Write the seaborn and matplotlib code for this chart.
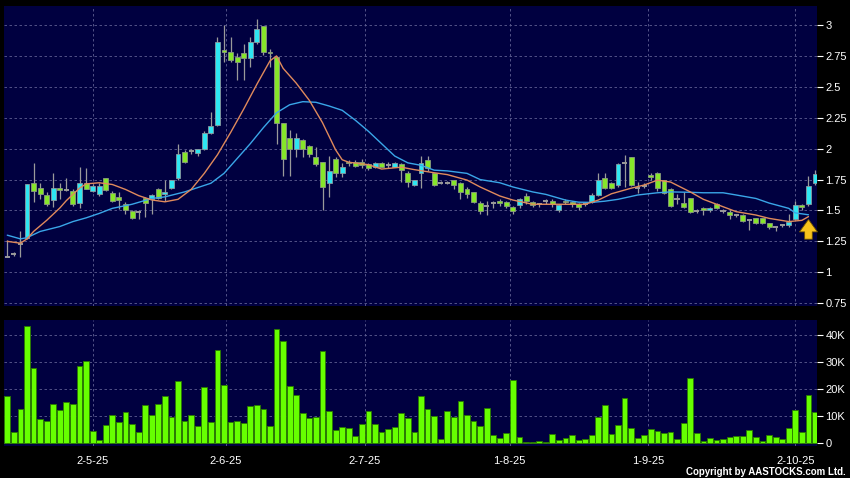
import numpy as np
import pandas as pd
import matplotlib
matplotlib.use("Agg")
import matplotlib.pyplot as plt
import seaborn as sns

# ---- data (prices in HKD, volume in K shares) ----
opens = [1.12, 1.145, 1.23, 1.28, 1.72, 1.68, 1.625, 1.585, 1.68, 1.665,
         1.66, 1.557, 1.724, 1.66, 1.63, 1.76, 1.638, 1.61, 1.55, 1.495,
         1.49, 1.597, 1.59, 1.673, 1.63, 1.68, 1.76, 1.975, 1.98, 1.962,
         2.0, 2.124, 2.19, 2.80, 2.78, 2.745, 2.776, 2.73, 2.86, 2.99,
         2.78, 2.74, 2.21, 2.083, 2.0, 2.07, 2.02, 1.935, 1.89, 1.72,
         1.92, 1.80, 1.894, 1.89, 1.894, 1.875, 1.855, 1.885, 1.87, 1.855,
         1.875, 1.80, 1.705, 1.80, 1.908, 1.80, 1.72, 1.72, 1.746, 1.724,
         1.67, 1.65, 1.557, 1.54, 1.56, 1.58, 1.57, 1.53, 1.544, 1.617,
         1.57, 1.55, 1.576, 1.576, 1.503, 1.576, 1.57, 1.552, 1.555, 1.57,
         1.625, 1.76, 1.724, 1.706, 1.88, 1.93, 1.68, 1.70, 1.79, 1.80,
         1.746, 1.67, 1.59, 1.557, 1.597, 1.495, 1.52, 1.503, 1.55, 1.497,
         1.49, 1.463, 1.463, 1.42, 1.436, 1.436, 1.40, 1.363, 1.38, 1.38,
         1.43, 1.544, 1.552, 1.724]
closes = [1.12, 1.145, 1.23, 1.71, 1.66, 1.63, 1.55, 1.68, 1.665, 1.665,
          1.55, 1.724, 1.673, 1.70, 1.70, 1.665, 1.58, 1.585, 1.50, 1.44,
          1.49, 1.557, 1.625, 1.60, 1.65, 1.746, 1.954, 1.894, 1.98, 1.994,
          2.124, 2.185, 2.865, 2.785, 2.72, 2.70, 2.73, 2.86, 2.968, 2.785,
          2.775, 2.21, 1.92, 2.0, 2.083, 1.994, 1.96, 1.875, 1.69, 1.82,
          1.80, 1.855, 1.88, 1.86, 1.87, 1.845, 1.88, 1.855, 1.87, 1.885,
          1.826, 1.73, 1.746, 1.887, 1.84, 1.706, 1.72, 1.72, 1.706, 1.65,
          1.632, 1.57, 1.497, 1.54, 1.56, 1.557, 1.535, 1.497, 1.59, 1.578,
          1.548, 1.55, 1.576, 1.552, 1.544, 1.565, 1.55, 1.525, 1.555, 1.625,
          1.746, 1.68, 1.68, 1.875, 1.88, 1.706, 1.68, 1.70, 1.773, 1.68,
          1.64, 1.54, 1.59, 1.53, 1.49, 1.495, 1.503, 1.52, 1.52, 1.497,
          1.463, 1.463, 1.417, 1.42, 1.40, 1.40, 1.363, 1.363, 1.38, 1.41,
          1.544, 1.525, 1.70, 1.794]
highs = [1.26, 1.16, 1.33, 1.71, 1.88, 1.72, 1.65, 1.80, 1.72, 1.76,
         1.67, 1.85, 1.84, 1.71, 1.72, 1.76, 1.66, 1.65, 1.57, 1.50,
         1.50, 1.61, 1.63, 1.68, 1.75, 1.75, 2.04, 1.99, 2.0, 2.0,
         2.14, 2.30, 2.90, 3.0, 2.90, 2.77, 2.85, 2.905, 3.05, 2.99,
         2.81, 2.75, 2.21, 2.15, 2.13, 2.08, 2.03, 2.01, 1.89, 1.94,
         1.93, 1.88, 1.91, 1.91, 1.92, 1.88, 1.89, 1.89, 1.89, 1.89,
         1.88, 1.82, 1.75, 1.94, 1.94, 1.80, 1.74, 1.74, 1.75, 1.73,
         1.69, 1.65, 1.58, 1.58, 1.58, 1.59, 1.58, 1.54, 1.60, 1.64,
         1.58, 1.56, 1.59, 1.59, 1.55, 1.59, 1.58, 1.56, 1.57, 1.64,
         1.80, 1.80, 1.73, 1.88, 1.95, 1.93, 1.73, 1.72, 1.80, 1.81,
         1.75, 1.68, 1.63, 1.65, 1.60, 1.51, 1.53, 1.53, 1.56, 1.51,
         1.50, 1.47, 1.47, 1.43, 1.44, 1.44, 1.40, 1.37, 1.39, 1.47,
         1.58, 1.55, 1.78, 1.83]
lows = [1.12, 1.13, 1.12, 1.27, 1.57, 1.59, 1.54, 1.53, 1.59, 1.66,
        1.54, 1.52, 1.67, 1.65, 1.62, 1.66, 1.57, 1.51, 1.47, 1.43,
        1.43, 1.45, 1.47, 1.59, 1.58, 1.67, 1.746, 1.88, 1.96, 1.94,
        1.99, 2.12, 2.18, 2.70, 2.70, 2.555, 2.555, 2.66, 2.85, 2.76,
        2.66, 2.04, 1.78, 1.78, 1.93, 1.93, 1.93, 1.86, 1.50, 1.61,
        1.77, 1.77, 1.86, 1.85, 1.84, 1.83, 1.84, 1.85, 1.84, 1.85,
        1.73, 1.69, 1.70, 1.68, 1.82, 1.70, 1.71, 1.71, 1.67, 1.59,
        1.60, 1.56, 1.47, 1.46, 1.52, 1.54, 1.52, 1.47, 1.52, 1.55,
        1.53, 1.53, 1.55, 1.53, 1.49, 1.55, 1.53, 1.50, 1.54, 1.56,
        1.62, 1.67, 1.67, 1.69, 1.69, 1.70, 1.64, 1.68, 1.75, 1.66,
        1.63, 1.53, 1.55, 1.52, 1.48, 1.48, 1.46, 1.49, 1.51, 1.48,
        1.43, 1.45, 1.41, 1.34, 1.39, 1.39, 1.35, 1.33, 1.37, 1.37,
        1.42, 1.50, 1.54, 1.706]
volume_k = [17.5, 4.2, 12.8, 43.5, 28, 9.1, 8.3, 14.4, 12.3, 15.2,
            14.4, 28.5, 30.4, 4.6, 1.4, 6.9, 10.4, 7.9, 11.7, 7.3,
            4.3, 14.2, 10.6, 14.4, 17.4, 9.9, 23.1, 8.3, 10.6, 6.3,
            20.9, 7.9, 34.6, 21.5, 7.9, 8.1, 7.5, 13.8, 14.2, 12.5,
            6.3, 42.2, 38, 21.2, 17.8, 11.1, 9.4, 9.8, 34.3, 12.1,
            5.1, 6.2, 5.7, 2.6, 7.2, 11.9, 7.3, 4.3, 5.2, 5.9,
            11.2, 9.4, 4.0, 17.5, 12.7, 10, 1.7, 11.9, 9.6, 15.7,
            10.4, 8.4, 6.5, 13, 3, 1.9, 3.7, 23.5, 2.3, 0.4,
            0.5, 0.8, 0.4, 3.6, 1.2, 1.8, 3, 1.2, 1.6, 3,
            9.8, 14, 3.5, 6.7, 16.7, 5.5, 2, 3.2, 5.2, 4.7,
            3.7, 4, 1.5, 7.5, 24, 3.8, 1, 2, 1.2, 1.5,
            2.3, 2.8, 2.8, 4.8, 2.5, 1, 3, 2.3, 1.7, 5.5,
            12.3, 4.2, 18, 11.5]

# moving averages as drawn on the chart (read at selected sessions)
ma_short_idx = [0, 2, 3, 4, 6, 8, 9, 10, 11, 12, 14, 16, 18, 20, 22, 24, 26, 28,
                30, 32, 34, 36, 38, 40, 41, 42, 44, 46, 48, 50, 51, 52, 55, 57,
                60, 62, 65, 67, 70, 72, 75, 77, 80, 85, 88, 90, 92, 95, 97, 99,
                101, 104, 106, 109, 111, 114, 116, 119, 121, 122]
ma_short = [1.25, 1.235, 1.27, 1.33, 1.42, 1.52, 1.58, 1.63, 1.68, 1.715, 1.724,
            1.71, 1.67, 1.62, 1.585, 1.57, 1.59, 1.67, 1.80, 1.95, 2.13, 2.32,
            2.52, 2.71, 2.75, 2.65, 2.53, 2.39, 2.21, 1.99, 1.91, 1.89, 1.87,
            1.835, 1.85, 1.83, 1.805, 1.79, 1.746, 1.69, 1.617, 1.584, 1.55,
            1.55, 1.55, 1.584, 1.635, 1.68, 1.706, 1.745, 1.73, 1.65, 1.59,
            1.53, 1.49, 1.463, 1.436, 1.41, 1.42, 1.45]
ma_long_idx = [0, 2, 3, 5, 8, 10, 12, 14, 16, 19, 22, 24, 27, 29, 31, 33, 35, 37,
               39, 41, 43, 45, 47, 49, 51, 53, 55, 57, 59, 61, 63, 65, 67, 70,
               72, 75, 77, 80, 82, 85, 87, 89, 91, 93, 96, 99, 101, 104, 106,
               109, 111, 114, 116, 119, 120, 122]
ma_long = [1.30, 1.27, 1.28, 1.33, 1.37, 1.41, 1.44, 1.476, 1.517, 1.55, 1.597,
           1.61, 1.65, 1.685, 1.72, 1.80, 1.92, 2.04, 2.17, 2.29, 2.355, 2.38,
           2.375, 2.345, 2.31, 2.23, 2.14, 2.04, 1.94, 1.885, 1.865, 1.826,
           1.82, 1.80, 1.75, 1.724, 1.69, 1.65, 1.63, 1.584, 1.567, 1.565,
           1.575, 1.59, 1.625, 1.643, 1.65, 1.647, 1.643, 1.643, 1.625, 1.597,
           1.56, 1.517, 1.48, 1.465]

date_labels = ["2-5-25", "2-6-25", "2-7-25", "1-8-25", "1-9-25", "2-10-25"]
date_pos = [13, 33.3, 54.4, 76.5, 97.6, 120]
price_ticks = [0.75, 1, 1.25, 1.5, 1.75, 2, 2.25, 2.5, 2.75, 3]
vol_ticks = [0, 10, 20, 30, 40]
arrow_idx, arrow_tip, arrow_base = 122, 1.45, 1.245

df = pd.DataFrame({"open": opens, "high": highs, "low": lows,
                   "close": closes, "volume": volume_k})
df["idx"] = np.arange(len(df))

# ---- styling ----
sns.set_style("dark")
plt.rcParams["font.family"] = ["Liberation Sans", "DejaVu Sans"]

bg = "#000040"
grid_c = "#5f5f92"
up_c = "#2ee6f2"
down_c = "#86e62a"
wick_c = "#9a9a9a"

fig = plt.figure(figsize=(8.5, 4.78), dpi=100, facecolor="black")
ax_p = fig.add_axes([4 / 850, 1 - 306 / 478, 813 / 850, 300 / 478])
ax_v = fig.add_axes([4 / 850, 1 - 446 / 478, 813 / 850, 126 / 478])

for ax in (ax_p, ax_v):
    ax.set_facecolor(bg)
    for s in ax.spines.values():
        s.set_visible(False)
    ax.set_xlim(-0.5, 123.3)
    ax.set_xticks(date_pos)
    ax.grid(True, color=grid_c, linestyle=(0, (3, 3)), linewidth=0.6)
    ax.yaxis.tick_right()
    ax.tick_params(axis="y", direction="out", length=4, width=0.8,
                   colors="white", labelsize=8, pad=2)
    ax.set_axisbelow(True)

# ---- candles ----
up = df[df.close > df.open]
down = df[df.close < df.open]
flat = df[df.close == df.open]

ax_p.vlines(df.idx, df.low, df.high, color=wick_c, linewidth=0.9, zorder=2)
ax_p.bar(up.idx, up.close - up.open, bottom=up.open, width=0.75,
         color=up_c, edgecolor="#8a9aa0", linewidth=0.6, zorder=3)
ax_p.bar(down.idx, down.open - down.close, bottom=down.close, width=0.75,
         color=down_c, edgecolor="#8a9a80", linewidth=0.6, zorder=3)
ax_p.hlines(flat.close, flat.idx - 0.4, flat.idx + 0.4, color=wick_c,
            linewidth=1.4, zorder=3)

sns.lineplot(x=ma_long_idx, y=ma_long, ax=ax_p, color="#3aa6e8",
             linewidth=1.0, zorder=4)
sns.lineplot(x=ma_short_idx, y=ma_short, ax=ax_p, color="#e08a5c",
             linewidth=1.0, zorder=5)

ax_p.annotate("", xy=(arrow_idx, arrow_tip), xytext=(arrow_idx, arrow_base),
              arrowprops=dict(arrowstyle="simple,head_width=1.3,head_length=0.9,tail_width=0.55",
                              fc="#f7c21c", ec="#6b5000", lw=0.6), zorder=6)

ax_p.set_ylim(0.727, 3.154)
ax_p.set_yticks(price_ticks)
ax_p.set_yticklabels([f"{t:g}" for t in price_ticks])
ax_p.tick_params(axis="x", length=0, labelbottom=False)
ax_p.set_xlabel("")
ax_p.set_ylabel("")

# ---- volume ----
sns.barplot(data=df, x="idx", y="volume", ax=ax_v, native_scale=True,
            color="#66ff00", edgecolor="#2a7a00", linewidth=0.6,
            width=0.88, saturation=1, zorder=3)
ax_v.set_xlim(-0.5, 123.3)
ax_v.set_xticks(date_pos)
ax_v.set_xticklabels(date_labels)
ax_v.set_ylim(-1.0, 45.6)
ax_v.set_yticks(vol_ticks)
ax_v.set_yticklabels([f"{t}K" if t else "0" for t in vol_ticks])
ax_v.tick_params(axis="x", direction="out", length=4, width=0.8,
                 colors="white", labelsize=8, pad=3)
ax_v.set_xlabel("")
ax_v.set_ylabel("")

fig.text(0.995, 0.002, "Copyright by AASTOCKS.com Ltd.", color="white",
         fontsize=7, fontweight="bold", ha="right", va="bottom")

fig.savefig("out.png", dpi=100, facecolor="black")
